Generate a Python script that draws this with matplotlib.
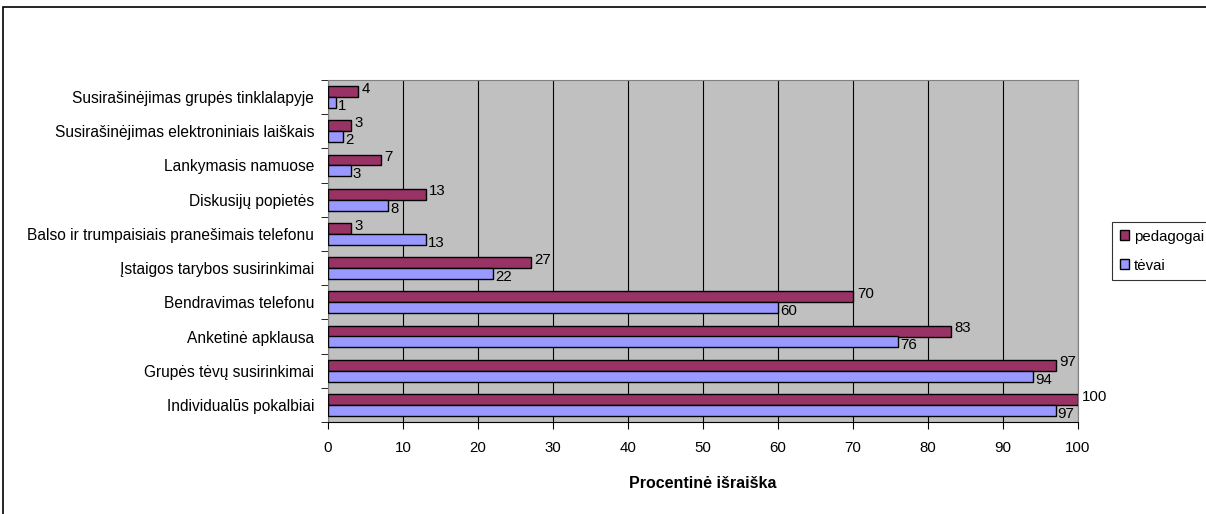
import matplotlib
matplotlib.use("Agg")
import matplotlib.pyplot as plt
from matplotlib.patches import Rectangle, Patch
import numpy as np

plt.rcParams['font.family'] = ['Liberation Sans', 'DejaVu Sans']

categories = [
    "Individualūs pokalbiai",
    "Grupės tėvų susirinkimai",
    "Anketinė apklausa",
    "Bendravimas telefonu",
    "Įstaigos tarybos susirinkimai",
    "Balso ir trumpaisiais pranešimais telefonu",
    "Diskusijų popietės",
    "Lankymasis namuose",
    "Susirašinėjimas elektroniniais laiškais",
    "Susirašinėjimas grupės tinklalapyje",
]
pedagogai = [100, 97, 83, 70, 27, 3, 13, 7, 3, 4]
tevai = [97, 94, 76, 60, 22, 13, 8, 3, 2, 1]
series_names = ["pedagogai", "tėvai"]
xticks = [0, 10, 20, 30, 40, 50, 60, 70, 80, 90, 100]

FS = 10.8

fig = plt.figure(figsize=(12.06, 5.14), dpi=100)
fig.patch.set_facecolor('white')
# outer chart border (left and top visible)
fig.add_artist(Rectangle((3/1206, -0.1), 1.2, 1 - 7/514 + 0.1, transform=fig.transFigure,
                         fill=False, edgecolor='black', linewidth=1.2))

ax = fig.add_axes([328/1206, 1 - 422/514, (1078 - 328)/1206, (422 - 80)/514])
ax.set_facecolor('#C0C0C0')

y = np.arange(len(categories))
h = 0.32
c_ped = '#993366'
c_tev = '#9999FF'
ax.barh(y + h/2, pedagogai, height=h, color=c_ped, edgecolor='black', linewidth=1, zorder=3)
ax.barh(y - h/2, tevai, height=h, color=c_tev, edgecolor='black', linewidth=1, zorder=3)

for yi, v in zip(y, pedagogai):
    ax.text(v + 0.5, yi + h/2 + 0.08, str(v), va='center', ha='left', fontsize=FS, zorder=4)
for yi, v in zip(y, tevai):
    ax.text(v + 0.3, yi - h/2 - 0.1, str(v), va='center', ha='left', fontsize=FS, zorder=4)

ax.set_xlim(0, 100)
ax.set_ylim(-0.5, len(categories) - 0.5)
ax.set_xticks(xticks)
ax.set_xticklabels([str(t) for t in xticks], fontsize=FS)
ax.xaxis.grid(True, color='black', linewidth=0.8, zorder=1)
ax.set_axisbelow(True)

ax.set_yticks(y)
ax.set_yticklabels(categories, fontsize=11.2)
ax.tick_params(axis='y', length=0, pad=10)
ax.set_yticks(np.arange(-0.5, len(categories), 1), minor=True)
ax.tick_params(axis='y', which='minor', length=5, direction='out')
ax.tick_params(axis='x', length=5, direction='out', pad=9)

for s in ['top', 'right']:
    ax.spines[s].set_color('#808080')
ax.spines['left'].set_color('#808080')
ax.spines['bottom'].set_color('black')

ax.set_xlabel("Procentinė išraiška", fontsize=11.5, fontweight='bold', labelpad=15)

handles = [Patch(facecolor=c_ped, edgecolor='black'), Patch(facecolor=c_tev, edgecolor='black')]
leg = fig.legend(handles, series_names, loc='upper left',
                 bbox_to_anchor=(1112/1206, 1 - 222/514), fontsize=FS,
                 frameon=True, fancybox=False, edgecolor='black',
                 handlelength=0.6, handleheight=0.6, handletextpad=0.35,
                 borderpad=0.5, labelspacing=1.0, borderaxespad=0)
leg.get_frame().set_linewidth(0.8)

fig.savefig("out.png", dpi=100)
